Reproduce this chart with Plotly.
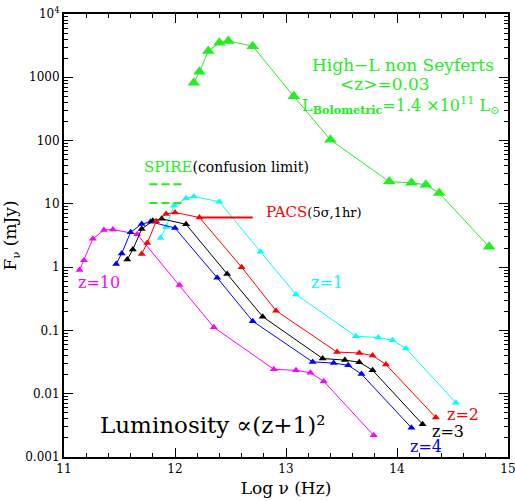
import numpy as np
import plotly.graph_objects as go

# ---- data (log nu [Hz], F_nu [mJy]) ----
seyf_x = [12.17, 12.22, 12.30, 12.40, 12.48, 12.70, 13.07, 13.40, 13.93, 14.13, 14.26, 14.38, 14.83]
seyf_y = [820, 1220, 2600, 3500, 3750, 3100, 500, 103, 22.5, 21.5, 20, 14.8, 2.1]

z1_x = [11.87, 11.92, 11.99, 12.10, 12.17, 12.40, 12.77, 13.09, 13.63, 13.83, 13.96, 14.08, 14.53]
z1_y = [2.9, 4.3, 9.3, 12.3, 13.1, 10.8, 1.75, 0.37, 0.081, 0.077, 0.070, 0.052, 0.0072]

z2_x = [11.70, 11.75, 11.83, 11.92, 12.00, 12.22, 12.60, 12.91, 13.46, 13.66, 13.78, 13.90, 14.35]
z2_y = [1.62, 2.4, 5.3, 6.9, 7.3, 6.1, 1.0, 0.205, 0.0455, 0.044, 0.040, 0.029, 0.0042]

z3_x = [11.57, 11.62, 11.70, 11.80, 11.88, 12.10, 12.47, 12.79, 13.33, 13.53, 13.66, 13.78, 14.23]
z3_y = [1.32, 1.9, 4.0, 5.4, 5.8, 4.75, 0.78, 0.165, 0.036, 0.034, 0.0315, 0.0235, 0.0033]

z4_x = [11.47, 11.52, 11.60, 11.70, 11.78, 12.00, 12.38, 12.70, 13.24, 13.43, 13.56, 13.68, 14.13]
z4_y = [1.12, 1.65, 3.55, 4.8, 5.2, 4.15, 0.68, 0.14, 0.0318, 0.0305, 0.0282, 0.0204, 0.0029]

z10_x = [11.14, 11.18, 11.26, 11.36, 11.44, 11.66, 12.04, 12.35, 12.89, 13.09, 13.22, 13.34, 13.79]
z10_y = [0.9, 1.29, 2.8, 3.85, 3.95, 3.3, 0.52, 0.112, 0.0243, 0.0234, 0.0215, 0.0157, 0.0022]

spire_x = [11.77, 12.07]
spire_y_upper = [20.5, 20.5]
spire_y_lower = [10.3, 10.3]
pacs_x = [12.22, 12.70]
pacs_y = [6.1, 6.1]

y_tickvals = [0.001, 0.01, 0.1, 1, 10, 100, 1000, 10000]
y_ticktext = ["0.001", "0.01", "0.1", "1", "10", "100", "1000", "10<sup>4</sup>"]
x_tickvals = [11, 12, 13, 14, 15]
y_minor = [m * 10.0 ** e for e in range(-3, 4) for m in range(2, 10)]

GREEN = "#22ee22"
CYAN = "#00ffff"
RED = "#ff0000"
BLACK = "#000000"
BLUE = "#0000ff"
MAGENTA = "#ff00ff"
FONT = "DejaVu Serif"

fig = go.Figure()

def series(x, y, color, size, width=1):
    fig.add_trace(go.Scatter(
        x=x, y=y, mode="lines+markers",
        line=dict(color=color, width=width),
        marker=dict(symbol="triangle-up", size=size, color=color, line=dict(width=0)),
        showlegend=False, hoverinfo="skip"))

series(seyf_x, seyf_y, GREEN, 11)
series(z1_x, z1_y, CYAN, 7)
series(z10_x, z10_y, MAGENTA, 7)
series(z4_x, z4_y, BLUE, 7)
series(z3_x, z3_y, BLACK, 7)
series(z2_x, z2_y, RED, 7)

for yy in (spire_y_upper, spire_y_lower):
    fig.add_trace(go.Scatter(x=spire_x, y=yy, mode="lines",
                             line=dict(color=GREEN, width=2, dash="8px,4px"),
                             showlegend=False, hoverinfo="skip"))
fig.add_trace(go.Scatter(x=pacs_x, y=pacs_y, mode="lines",
                         line=dict(color=RED, width=2),
                         showlegend=False, hoverinfo="skip"))

def ann(text, x, ly, color, size, xanchor="left"):
    fig.add_annotation(x=x, y=ly, xref="x", yref="y", text=text, showarrow=False,
                       xanchor=xanchor, yanchor="middle",
                       font=dict(family=FONT, size=size, color=color))

ann("High\u2212L non Seyferts", 14.05, 3.19, GREEN, 17, "center")
ann("&lt;z&gt;=0.03", 13.89, 2.89, GREEN, 17, "center")
ann("L<sub><b>Bolometric</b></sub>=1.4 \u00d710<sup>11</sup> L<sub>\u2299</sub>", 14.94, 2.56, GREEN, 16, "right")
ann("<span style='color:%s;font-size:15px'>SPIRE</span>(confusion limit)" % GREEN, 11.70, 1.58, BLACK, 14)
ann("<span style='color:%s;font-size:15px'>PACS</span>(5\u03c3,1hr)" % RED, 12.80, 0.87, BLACK, 13)
ann("z=10", 11.11, -0.24, MAGENTA, 16)
ann("z=1", 13.21, -0.24, CYAN, 16)
ann("z=2", 14.43, -2.33, RED, 16)
ann("z=3", 14.30, -2.60, BLACK, 16)
ann("z=4", 14.10, -2.84, BLUE, 16)
ann("Luminosity \u221d(z+1)\u00b2", 11.31, -2.49, BLACK, 23)

axis_common = dict(showgrid=False, zeroline=False, showline=True, linecolor="black",
                   linewidth=2, ticks="inside", tickcolor="black", tickwidth=1,
                   ticklen=9, automargin=False, mirror="allticks",
                   ticklabeloverflow="allow",
                   tickfont=dict(family=FONT, size=12, color="black"))

fig.update_layout(
    width=515, height=501,
    margin=dict(l=64, r=7, t=14, b=44),
    paper_bgcolor="white", plot_bgcolor="white",
    xaxis=dict(range=[11, 15], tickvals=x_tickvals,
               minor=dict(ticks="inside", ticklen=4, dtick=0.2, tickcolor="black", tickwidth=1),
               title=dict(text="Log \u03bd (Hz)", font=dict(family=FONT, size=17, color="black"), standoff=7),
               **axis_common),
    yaxis=dict(type="log", range=[-3, 4], tickvals=y_tickvals, ticktext=y_ticktext,
               minor=dict(ticks="inside", ticklen=4, tickcolor="black", tickwidth=1, tickvals=y_minor),
               title=dict(text="F<sub>\u03bd</sub> (mJy)", font=dict(family=FONT, size=17, color="black"), standoff=4),
               **axis_common),
)

# remove the page's default body margin / scrollbars so the figure fills the window exactly
fig.write_html("out.html",
               config={"displayModeBar": False},
               post_script="document.body.style.margin='0';document.body.style.overflow='hidden';")
